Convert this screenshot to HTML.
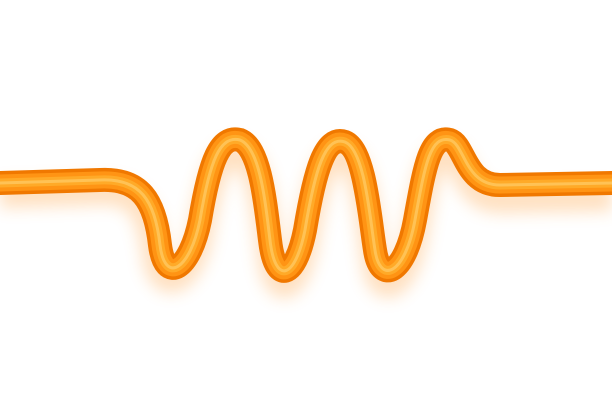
<!DOCTYPE html>
<html><head><meta charset="utf-8"><style>
html,body{margin:0;padding:0;background:#fff;width:612px;height:400px;overflow:hidden}
</style></head><body>
<svg width="612" height="400" viewBox="0 0 612 400" xmlns="http://www.w3.org/2000/svg">
<defs>
<filter id="blur" x="-20%" y="-50%" width="140%" height="200%"><feGaussianBlur stdDeviation="8"/></filter>
</defs>
<rect width="612" height="400" fill="#ffffff"/>
<g filter="url(#blur)" opacity="0.3">
<path d="M0,195 L100,192 C140,190 150,215 155,255 C160,295 190,285 200,235 C210,175 220,150 240,155 C260,163 265,215 270,255 C275,298 295,295 305,245 C315,185 325,150 345,157 C365,165 370,235 375,265 C380,298 405,290 415,235 C425,180 430,150 450,155 C465,160 465,200 500,200 L612,198" fill="none" stroke="#ff9a30" stroke-width="26"/>
</g>
<g fill="none" stroke-linecap="round">
<path d="M0,183 L100,180 C140,178 155,200 160,245 C165,285 190,270 200,220 C210,160 220,135 240,140 C260,148 265,200 270,240 C275,285 295,280 305,230 C315,170 325,135 345,142 C365,150 370,220 375,250 C380,285 405,275 415,220 C425,165 430,135 450,140 C465,145 465,185 500,185 L612,183" stroke="#f07800" stroke-width="24"/>
<path d="M0,183 L100,180 C140,178 155,200 160,245 C165,285 190,270 200,220 C210,160 220,135 240,140 C260,148 265,200 270,240 C275,285 295,280 305,230 C315,170 325,135 345,142 C365,150 370,220 375,250 C380,285 405,275 415,220 C425,165 430,135 450,140 C465,145 465,185 500,185 L612,183" stroke="#ff9414" stroke-width="17"/>
<path d="M0,183 L100,180 C140,178 155,200 160,245 C165,285 190,270 200,220 C210,160 220,135 240,140 C260,148 265,200 270,240 C275,285 295,280 305,230 C315,170 325,135 345,142 C365,150 370,220 375,250 C380,285 405,275 415,220 C425,165 430,135 450,140 C465,145 465,185 500,185 L612,183" stroke="#ffaa28" stroke-width="9"/>
<path d="M0,183 L100,180 C140,178 155,200 160,245 C165,285 190,270 200,220 C210,160 220,135 240,140 C260,148 265,200 270,240 C275,285 295,280 305,230 C315,170 325,135 345,142 C365,150 370,220 375,250 C380,285 405,275 415,220 C425,165 430,135 450,140 C465,145 465,185 500,185 L612,183" stroke="#ffc860" stroke-width="3" opacity="0.8"/>
</g>
</svg>
</body></html>
